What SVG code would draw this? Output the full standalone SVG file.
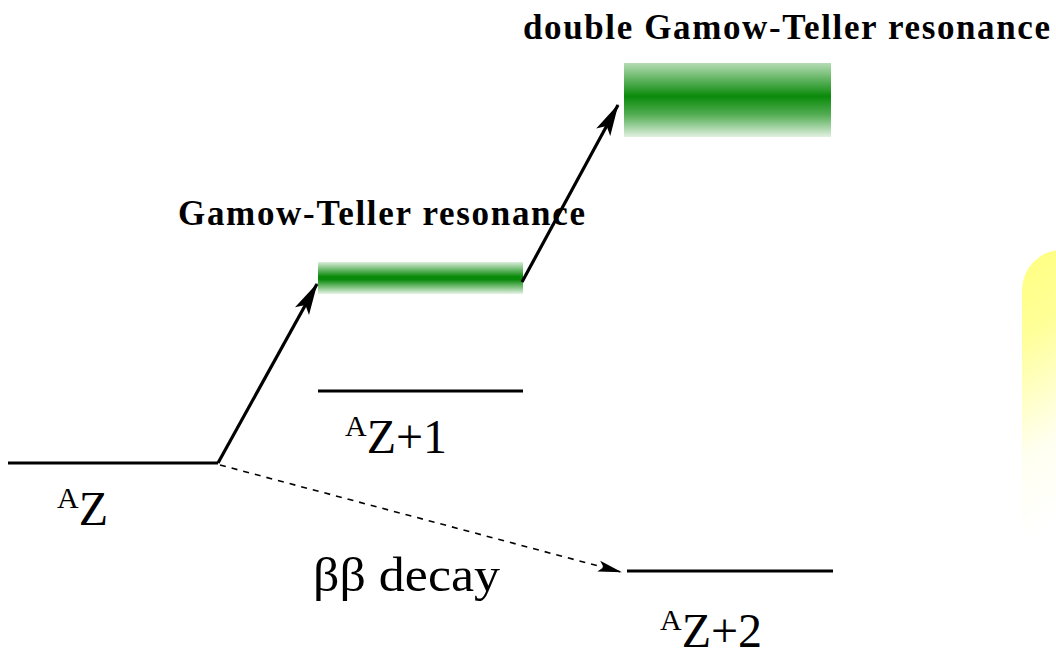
<svg xmlns="http://www.w3.org/2000/svg" width="1056" height="655" viewBox="0 0 1056 655">
  <defs>
    <linearGradient id="band" x1="0" y1="0" x2="0" y2="1">
      <stop offset="0" stop-color="#0a8a0a" stop-opacity="0.15"/>
      <stop offset="0.45" stop-color="#0a8a0a" stop-opacity="1"/>
      <stop offset="0.55" stop-color="#0a8a0a" stop-opacity="1"/>
      <stop offset="1" stop-color="#0a8a0a" stop-opacity="0.1"/>
    </linearGradient>
    <linearGradient id="band2" x1="0" y1="0" x2="0" y2="1">
      <stop offset="0" stop-color="#0a8a0a" stop-opacity="0.3"/>
      <stop offset="0.45" stop-color="#0a8a0a" stop-opacity="1"/>
      <stop offset="0.7" stop-color="#0a8a0a" stop-opacity="0.7"/>
      <stop offset="1" stop-color="#0a8a0a" stop-opacity="0.12"/>
    </linearGradient>
    <linearGradient id="glow" x1="0" y1="0" x2="0.15" y2="1">
      <stop offset="0" stop-color="#ffff80"/>
      <stop offset="0.25" stop-color="#ffff98"/>
      <stop offset="0.6" stop-color="#fffff0"/>
      <stop offset="0.85" stop-color="#ffffff"/>
      <stop offset="1" stop-color="#ffffff"/>
    </linearGradient>
    <marker id="head" viewBox="0 0 32 18" refX="31" refY="9" markerWidth="32" markerHeight="18" markerUnits="userSpaceOnUse" orient="auto">
      <path d="M0,1 L32,9 L0,17 L7,9 Z" fill="#000"/>
    </marker>
    <marker id="headSmall" viewBox="0 0 24 12" refX="23" refY="6" markerWidth="24" markerHeight="12" markerUnits="userSpaceOnUse" orient="auto">
      <path d="M0,0.5 L24,6 L0,11.5 L5,6 Z" fill="#000"/>
    </marker>
  </defs>
  <style>
    .level { stroke: #000; stroke-width: 3.2; fill: none; }
    .title { font-family: "Liberation Serif", "Times New Roman", serif; font-weight: bold; font-size: 35px; fill: #000; }
    .lbl { font-family: "Liberation Serif", "Times New Roman", serif; font-size: 48px; fill: #000; }
    .sup { font-size: 30px; }
    .arrow { stroke: #000; stroke-width: 3.2; fill: none; }
    .dash { stroke: #000; stroke-width: 1.6; stroke-dasharray: 6 6; fill: none; }
  </style>

  <rect width="1056" height="655" fill="#ffffff"/>

  <!-- yellow tab at right edge -->
  <rect x="1022" y="250" width="80" height="340" rx="40" ry="40" fill="url(#glow)"/>

  <!-- ground state A Z -->
  <g id="level-AZ">
    <line class="level" x1="8" y1="463" x2="218" y2="463"/>
    <text class="lbl" x="57" y="525"><tspan class="sup" dy="-17">A</tspan><tspan dy="17">Z</tspan></text>
  </g>

  <!-- A Z+1 -->
  <g id="level-AZ1">
    <line class="level" x1="318" y1="391" x2="523" y2="391"/>
    <text class="lbl" x="345" y="453"><tspan class="sup" dy="-17">A</tspan><tspan dy="17">Z+1</tspan></text>
  </g>

  <!-- A Z+2 -->
  <g id="level-AZ2">
    <line class="level" x1="627" y1="571" x2="833" y2="571"/>
    <text class="lbl" x="660" y="647"><tspan class="sup" dy="-17">A</tspan><tspan dy="17">Z+2</tspan></text>
  </g>

  <!-- Gamow-Teller resonance band -->
  <g id="gt">
    <rect x="318" y="262" width="205" height="32" fill="url(#band)"/>
    <text class="title" x="178" y="225" textLength="407" lengthAdjust="spacing">Gamow-Teller resonance</text>
  </g>

  <!-- double Gamow-Teller resonance band -->
  <g id="dgt">
    <rect x="624" y="63" width="207" height="74" fill="url(#band2)"/>
    <text class="title" x="523" y="39" textLength="527" lengthAdjust="spacing">double Gamow-Teller resonance</text>
  </g>

  <!-- ββ decay label -->
  <g id="bb-label">
    <text class="lbl" x="313" y="591" textLength="187" lengthAdjust="spacingAndGlyphs">ββ decay</text>
  </g>

  <!-- transitions -->
  <g id="connectors">
    <line class="arrow" x1="218" y1="463" x2="317" y2="284" marker-end="url(#head)"/>
    <line class="arrow" x1="522" y1="282" x2="618" y2="105" marker-end="url(#head)"/>
    <line class="dash" x1="220" y1="465" x2="621" y2="572" marker-end="url(#headSmall)"/>
  </g>
</svg>
